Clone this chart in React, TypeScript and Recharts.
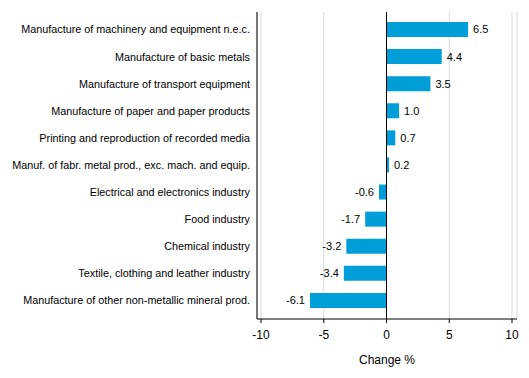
import React from "react";
import {
  BarChart,
  Bar,
  XAxis,
  YAxis,
  CartesianGrid,
  ReferenceLine,
  LabelList,
} from "recharts";

const categories = [
  "Manufacture of machinery and equipment n.e.c.",
  "Manufacture of basic metals",
  "Manufacture of transport equipment",
  "Manufacture of paper and paper products",
  "Printing and reproduction of recorded media",
  "Manuf. of fabr. metal prod., exc. mach. and equip.",
  "Electrical and electronics industry",
  "Food industry",
  "Chemical industry",
  "Textile, clothing and leather industry",
  "Manufacture of other non-metallic mineral prod.",
];

const changes = [6.5, 4.4, 3.5, 1.0, 0.7, 0.2, -0.6, -1.7, -3.2, -3.4, -6.1];

const xTicks = [-10, -5, 0, 5, 10];

const data = categories.map((name, i) => ({ name, value: changes[i] }));

const FONT = "'Liberation Sans', Arial, sans-serif";

// value label: right of positive bars, left of negative ones
const ValueLabel = (props: any) => {
  const { x, y, width, height, value } = props;
  const neg = value < 0;
  const tx = neg ? Math.min(x, x + width) - 5 : Math.max(x, x + width) + 5;
  return (
    <text
      x={tx}
      y={y + height / 2}
      dy="0.36em"
      textAnchor={neg ? "end" : "start"}
      fontSize={11}
      fontFamily={FONT}
      fill="#000"
    >
      {value.toFixed(1)}
    </text>
  );
};

// category label on one line, no wrapping
const CategoryTick = (props: any) => {
  const { x, y, payload } = props;
  return (
    <text
      x={x + 1}
      y={y}
      dy="0.36em"
      textAnchor="end"
      fontSize={10.8}
      fontFamily={FONT}
      fill="#000"
    >
      {payload.value}
    </text>
  );
};

export default function App() {
  return (
    <div style={{ position: "fixed", left: 0, top: 0, background: "#fff" }}>
      <BarChart
        width={529}
        height={378}
        data={data}
        layout="vertical"
        margin={{ top: 12, right: 12, bottom: 13, left: 0 }}
      >
        <CartesianGrid
          horizontal={false}
          stroke="#d9d9d9"
          strokeWidth={1}
        />
        <XAxis
          type="number"
          domain={[-10, 10]}
          ticks={xTicks}
          height={46}
          padding={{ left: 4, right: 5 }}
          axisLine={{ stroke: "#000" }}
          tickLine={{ stroke: "#000" }}
          tickSize={4}
          tickMargin={7}
          tick={{ fontSize: 12, fontFamily: FONT, fill: "#000" }}
          label={{
            value: "Change %",
            position: "insideBottom",
            offset: 1,
            style: { fontSize: 12, fontFamily: FONT, fill: "#000" },
          }}
        />
        <YAxis
          type="category"
          dataKey="name"
          width={257}
          padding={{ top: 4, bottom: 5 }}
          axisLine={{ stroke: "#000" }}
          tickLine={false}
          interval={0}
          tick={<CategoryTick />}
        />
        <ReferenceLine x={0} stroke="#000" strokeWidth={1} />
        <Bar
          dataKey="value"
          fill="#009ed8"
          barSize={15}
          isAnimationActive={false}
        >
          <LabelList dataKey="value" content={ValueLabel} />
        </Bar>
      </BarChart>
    </div>
  );
}
